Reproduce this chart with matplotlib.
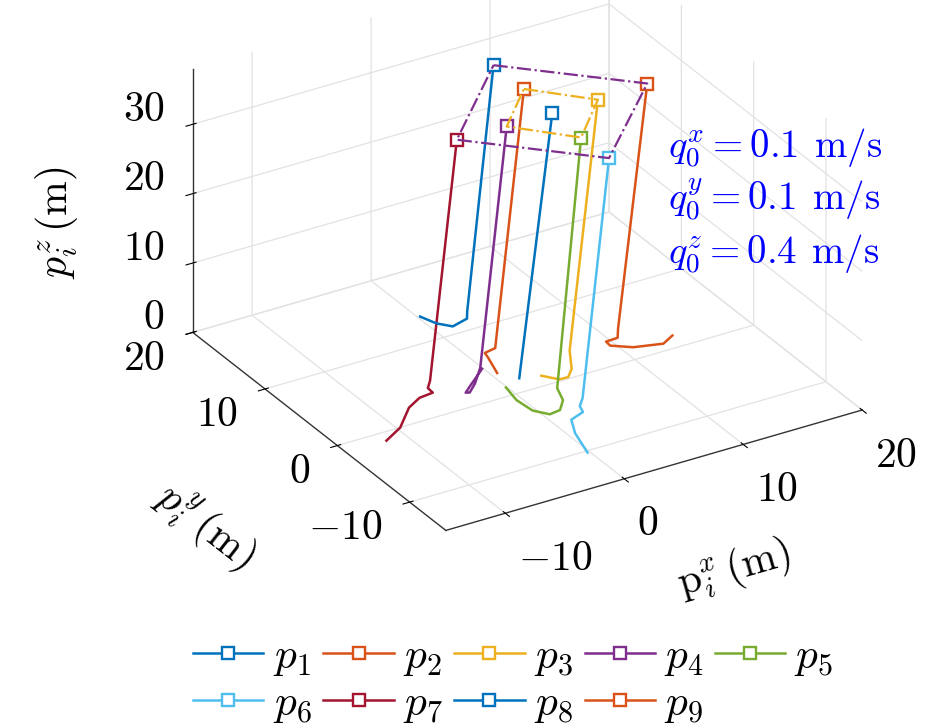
import matplotlib.pyplot as plt

plt.rcParams['mathtext.fontset'] = 'cm'
plt.rcParams['font.family'] = ['DejaVu Serif']
plt.rcParams['grid.color'] = '#e2e2e2'
plt.rcParams['grid.linewidth'] = 0.9

# trajectories of the 9 agents, from start (bottom) to final formation (top)
p1_x = [0.9, 8.0]
p1_y = [1.0, 8.1]
p1_z = [1.0, 30.0]

p2_x = [0.5, 0.6, 0.5, 1.25, 8.1]
p2_y = [3.4, 4.8, 5.1, 4.9, 12.2]
p2_z = [0.0, 1.0, 1.5, 2.0, 30.0]

p3_x = [3.0, 3.6, 4.1, 4.7, 5.5, 11.8]
p3_y = [1.4, -0.1, -0.5, 0.0, 1.6, 8.05]
p3_z = [0.0, 0.4, 0.8, 1.3, 2.2, 30.0]

p4_x = [-0.1, -2.3, -3.3, -3.2, -2.4, -1.1, 4.1]
p4_y = [4.5, 2.5, 1.5, 1.1, 1.7, 3.1, 8.0]
p4_z = [0.0, 0.3, 0.6, 0.9, 1.3, 1.8, 30.0]

p5_x = [-0.1, -0.6, -0.6, 0.0, 0.8, 1.6, 1.9, 7.8]
p5_y = [1.2, -1.1, -3.3, -4.7, -4.8, -3.9, -2.6, 3.8]
p5_z = [0.0, 0.3, 0.6, 0.9, 1.2, 1.5, 2.0, 30.0]

p6_x = [-0.2, 0.3, 0.9, 2.0, 2.1, 2.7, 7.9]
p6_y = [-10.25, -7.7, -6.2, -6.0, -5.4, -4.8, 0.1]
p6_z = [0.0, 0.5, 0.9, 1.3, 1.6, 2.0, 30.0]

p7_x = [-11.6, -9.9, -8.0, -6.75, -5.7, -5.75, -5.2, 0.0]
p7_y = [-1.2, -0.3, 1.6, 2.2, 2.1, 2.7, 3.3, 8.15]
p7_z = [0.0, 0.3, 0.7, 1.0, 1.3, 1.5, 1.8, 30.0]

p8_x = [0.2, 0.5, 1.0, 2.1, 2.3, 8.1]
p8_y = [13.55, 11.8, 10.35, 10.2, 10.5, 16.4]
p8_z = [0.0, 0.3, 0.8, 1.5, 2.2, 30.0]

p9_x = [14.2, 12.9, 10.6, 9.15, 9.05, 9.9, 10.3, 16.1]
p9_y = [1.7, 0.8, 1.2, 2.0, 2.4, 2.2, 2.8, 8.3]
p9_z = [0.0, 0.2, 0.5, 0.8, 1.1, 1.4, 2.0, 30.0]

traj_x = [p1_x, p2_x, p3_x, p4_x, p5_x, p6_x, p7_x, p8_x, p9_x]
traj_y = [p1_y, p2_y, p3_y, p4_y, p5_y, p6_y, p7_y, p8_y, p9_y]
traj_z = [p1_z, p2_z, p3_z, p4_z, p5_z, p6_z, p7_z, p8_z, p9_z]

names = [r'$p_1$', r'$p_2$', r'$p_3$', r'$p_4$', r'$p_5$',
         r'$p_6$', r'$p_7$', r'$p_8$', r'$p_9$']
colors = ['#0072BD', '#D95319', '#EDB120', '#7E2F8E', '#77AC30',
          '#4DBEEE', '#A2142F', '#0072BD', '#D95319']

# agents joined by the dash-dot squares of the final formation (0-based)
outer_ring = [7, 8, 5, 6, 7]
inner_ring = [1, 2, 4, 3, 1]

ticks = [-10, 0, 10, 20]
tick_labels = [r'$-10$', r'$0$', r'$10$', r'$20$']
zticks = [0, 10, 20, 30]
ztick_labels = [r'$0$', r'$10$', r'$20$', r'$30$']

speed_text = [r'$q_0^x{=}0.1\;\,\mathrm{m/s}$',
              r'$q_0^y{=}0.1\;\,\mathrm{m/s}$',
              r'$q_0^z{=}0.4\;\,\mathrm{m/s}$']

fig = plt.figure(figsize=(9.45, 7.28), dpi=100)
ax = fig.add_axes([0.1617, 0.1566, 0.772, 1.002], projection='3d', proj_type='ortho')
ax.view_init(elev=28.4, azim=-121.3)
ax.set_box_aspect((1, 1, 0.615))

for i in range(9):
    ax.plot(traj_x[i], traj_y[i], traj_z[i], color=colors[i], lw=1.8,
            marker='s', markevery=[len(traj_x[i]) - 1], ms=9, mfc='white',
            mec=colors[i], mew=1.7, label=names[i])

for ring, col in [(outer_ring, '#7E2F8E'), (inner_ring, '#EDB120')]:
    ax.plot([traj_x[k][-1] for k in ring], [traj_y[k][-1] for k in ring],
            [traj_z[k][-1] for k in ring], color=col, lw=1.6, ls='-.')

ax.set_xlim(-15, 20)
ax.set_ylim(-15, 20)
ax.set_zlim(0, 38)
ax.set_xticks(ticks)
ax.set_xticklabels(tick_labels)
ax.set_yticks(ticks)
ax.set_yticklabels(tick_labels)
ax.set_zticks(zticks)
ax.set_zticklabels(ztick_labels)
ax.tick_params(labelsize=30)
ax.xaxis.set_tick_params(pad=6)
ax.yaxis.set_tick_params(pad=10)

for t in ax.xaxis.get_major_ticks():
    t.label1.set_horizontalalignment('left')
for t in ax.yaxis.get_major_ticks():
    t.label1.set_horizontalalignment('right')
    t.label1.set_verticalalignment('center')
for t in ax.zaxis.get_major_ticks():
    t.label1.set_horizontalalignment('right')
    t.label1.set_verticalalignment('baseline')

for axis in (ax.xaxis, ax.yaxis, ax.zaxis):
    axis.set_pane_color((1, 1, 1, 0))
    axis.pane.set_edgecolor((1, 1, 1, 0))
    axis.line.set_color('#333333')
    axis.line.set_linewidth(1.0)

# axis titles placed along the drawn box edges
fig.text(0.777, 0.218, r'$\mathrm{p}_i^x\,(\mathrm{m})$', fontsize=30,
         rotation=16, ha='center', va='center', rotation_mode='anchor')
fig.text(0.217, 0.276, r'$p_i^y\,(\mathrm{m})$', fontsize=30,
         rotation=-38, ha='center', va='center', rotation_mode='anchor')
fig.text(0.060, 0.694, r'$p_i^z\,(\mathrm{m})$', fontsize=30,
         rotation=90, ha='center', va='center', rotation_mode='anchor')

for k, s in enumerate(speed_text):
    fig.text(0.707, 0.783 - 0.0728 * k, s, color='blue', fontsize=28)

handles, labels = ax.get_legend_handles_labels()
order = [0, 5, 1, 6, 2, 7, 3, 8, 4]
fig.legend([handles[k] for k in order], [labels[k] for k in order],
           loc='lower center', bbox_to_anchor=(0.543, 0.004), ncol=5,
           frameon=False, fontsize=31, handlelength=1.63, handletextpad=0.21,
           columnspacing=0.28, labelspacing=0.1, borderpad=0, borderaxespad=0)

fig.savefig('out.png', dpi=100)
